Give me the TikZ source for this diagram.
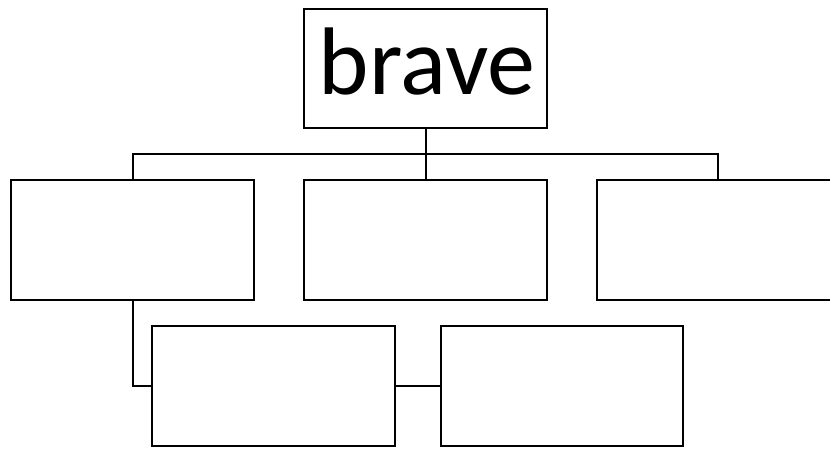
\documentclass[tikz,border=0pt]{standalone}
\usepackage{fontspec}
\setmainfont{Carlito}
\begin{document}
\begin{tikzpicture}[x=1pt,y=-1pt,
  box/.style={draw=black,line width=2pt,rectangle,inner sep=0pt,minimum width=242.5pt,minimum height=120.5pt},
  conn/.style={draw=black,line width=2pt}]
\useasboundingbox (0,0) rectangle (830,449);
\begin{scope}
\clip (0,0) rectangle (830,449);
\node[box,minimum height=119.5pt] (top) at (425.5,68.7) {};
\node[anchor=base,inner sep=0pt,font=\fontsize{96}{104}\selectfont] (toptext) at (427,95) {brave};
\node[box] (l) at (132.5,240) {};
\node[box] (m) at (425.5,240) {};
\node[box,minimum width=260pt] (r) at (727,240) {};
\node[box] (b1) at (273.5,386) {};
\node[box] (b2) at (562,386) {};
\coordinate (bus) at (425.5,154.5);
\draw[conn] (top.south) -- (m.north);
\draw[conn] (l.north) |- (bus) -| ([xshift=-9pt]r.north);
\draw[conn] (l.south) |- (b1.west);
\draw[conn] (b1.east) -- (b2.west);
\end{scope}
\end{tikzpicture}
\end{document}
